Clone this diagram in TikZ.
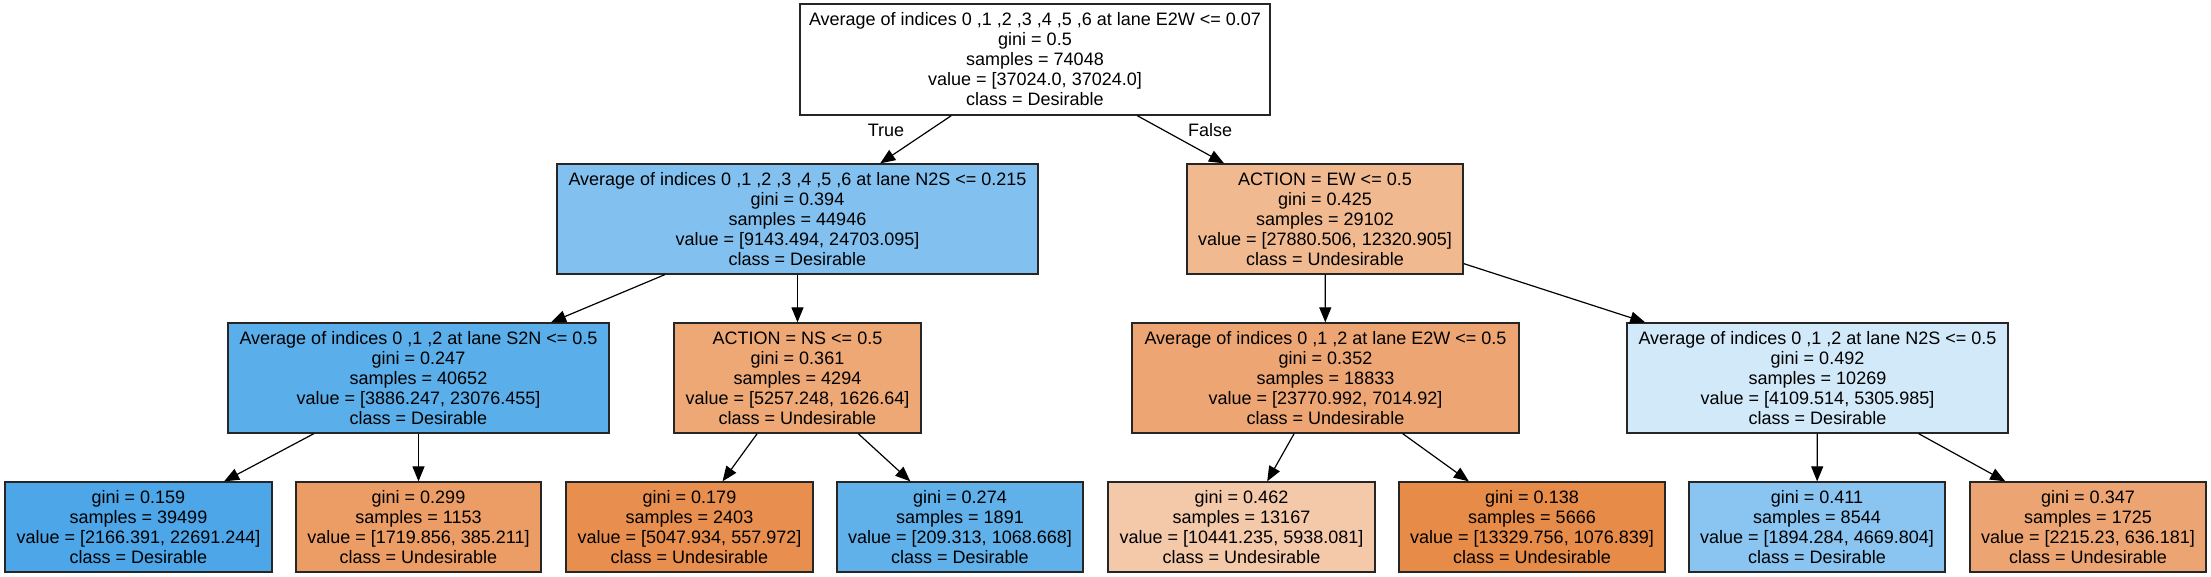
\documentclass[tikz,border=0pt]{standalone}
\usepackage{fontspec}
\setmainfont{Liberation Sans}
\usetikzlibrary{arrows.meta}
\definecolor{cRoot}{RGB}{255,255,255}
\definecolor{cA}{RGB}{130,193,239}
\definecolor{cB}{RGB}{240,185,144}
\definecolor{cC}{RGB}{90,174,233}
\definecolor{cD}{RGB}{237,168,118}
\definecolor{cE}{RGB}{237,166,115}
\definecolor{cF}{RGB}{210,233,249}
\definecolor{cL1}{RGB}{76,166,232}
\definecolor{cL2}{RGB}{235,157,101}
\definecolor{cL3}{RGB}{232,143,79}
\definecolor{cL4}{RGB}{96,176,234}
\definecolor{cL5}{RGB}{244,201,170}
\definecolor{cL6}{RGB}{231,139,73}
\definecolor{cL7}{RGB}{137,197,240}
\definecolor{cL8}{RGB}{236,165,114}
\tikzset{
  tbox/.style={draw=black!85, line width=1.3pt, inner sep=0pt, align=center,
    font=\fontsize{18}{20}\selectfont},
  inner/.style={tbox, minimum height=110pt},
  leaf/.style={tbox, minimum height=90pt},
  arr/.style={draw=black, line width=1.2pt, -{Triangle[length=15pt,width=12pt]}},
  elabel/.style={font=\fontsize{18}{20}\selectfont, inner sep=0pt}
}
\begin{document}
\begin{tikzpicture}[x=1pt,y=-1pt]
\useasboundingbox[fill=white] (0,0) rectangle (2211,577);
% root
\node[tbox, fill=cRoot, minimum width=470pt, minimum height=111pt] (root) at (1035,59.5)
  {Average of indices 0 ,1 ,2 ,3 ,4 ,5 ,6 at lane E2W <= 0.07\\gini = 0.5\\samples = 74048\\value = [37024.0, 37024.0]\\class = Desirable};
% level 1
\node[inner, fill=cA, minimum width=481pt] (a) at (797.5,219)
  {Average of indices 0 ,1 ,2 ,3 ,4 ,5 ,6 at lane N2S <= 0.215\\gini = 0.394\\samples = 44946\\value = [9143.494, 24703.095]\\class = Desirable};
\node[inner, fill=cB, minimum width=276pt] (b) at (1325,219)
  {ACTION = EW <= 0.5\\gini = 0.425\\samples = 29102\\value = [27880.506, 12320.905]\\class = Undesirable};
% level 2
\node[inner, fill=cC, minimum width=381pt] (c) at (418.5,378)
  {Average of indices 0 ,1 ,2 at lane S2N <= 0.5\\gini = 0.247\\samples = 40652\\value = [3886.247, 23076.455]\\class = Desirable};
\node[inner, fill=cD, minimum width=247pt] (d) at (797.5,378)
  {ACTION = NS <= 0.5\\gini = 0.361\\samples = 4294\\value = [5257.248, 1626.64]\\class = Undesirable};
\node[inner, fill=cE, minimum width=387pt] (e) at (1325.5,378)
  {Average of indices 0 ,1 ,2 at lane E2W <= 0.5\\gini = 0.352\\samples = 18833\\value = [23770.992, 7014.92]\\class = Undesirable};
\node[inner, fill=cF, minimum width=381pt] (f) at (1817.5,378)
  {Average of indices 0 ,1 ,2 at lane N2S <= 0.5\\gini = 0.492\\samples = 10269\\value = [4109.514, 5305.985]\\class = Desirable};
% leaves
\node[leaf, fill=cL1, minimum width=267pt] (l1) at (138.5,527)
  {gini = 0.159\\samples = 39499\\value = [2166.391, 22691.244]\\class = Desirable};
\node[leaf, fill=cL2, minimum width=245pt] (l2) at (418.5,527)
  {gini = 0.299\\samples = 1153\\value = [1719.856, 385.211]\\class = Undesirable};
\node[leaf, fill=cL3, minimum width=247pt] (l3) at (689.5,527)
  {gini = 0.179\\samples = 2403\\value = [5047.934, 557.972]\\class = Undesirable};
\node[leaf, fill=cL4, minimum width=246pt] (l4) at (960,527)
  {gini = 0.274\\samples = 1891\\value = [209.313, 1068.668]\\class = Desirable};
\node[leaf, fill=cL5, minimum width=267pt] (l5) at (1241.5,527)
  {gini = 0.462\\samples = 13167\\value = [10441.235, 5938.081]\\class = Undesirable};
\node[leaf, fill=cL6, minimum width=266pt] (l6) at (1532,527)
  {gini = 0.138\\samples = 5666\\value = [13329.756, 1076.839]\\class = Undesirable};
\node[leaf, fill=cL7, minimum width=256pt] (l7) at (1817,527)
  {gini = 0.411\\samples = 8544\\value = [1894.284, 4669.804]\\class = Desirable};
\node[leaf, fill=cL8, minimum width=236pt] (l8) at (2088,527)
  {gini = 0.347\\samples = 1725\\value = [2215.23, 636.181]\\class = Undesirable};
% edge labels
\node[elabel] (tl) at (886,130) {True};
\node[elabel] (fl) at (1210,130) {False};
% edges
\draw[arr] (root) -- (a);
\draw[arr] (root) -- (b);
\draw[arr] (a) -- (c);
\draw[arr] (a) -- (d);
\draw[arr] (b) -- (e);
\draw[arr] (b) -- (f);
\draw[arr] (c) -- (l1);
\draw[arr] (c) -- (l2);
\draw[arr] (d) -- (l3);
\draw[arr] (d) -- (l4);
\draw[arr] (e) -- (l5);
\draw[arr] (e) -- (l6);
\draw[arr] (f) -- (l7);
\draw[arr] (f) -- (l8);
\end{tikzpicture}
\end{document}
